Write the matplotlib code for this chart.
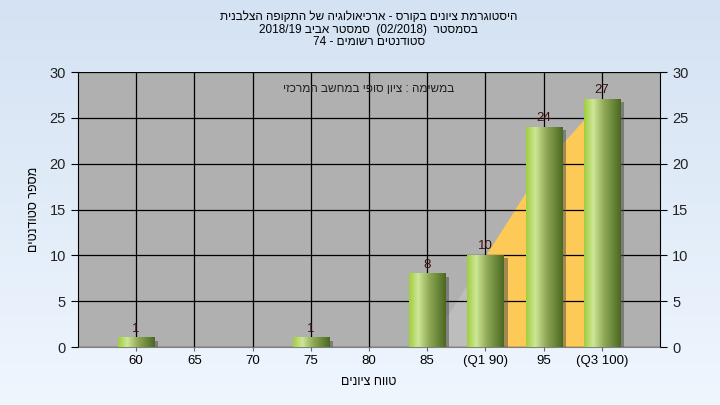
import numpy as np
import matplotlib
matplotlib.use("Agg")
import matplotlib.pyplot as plt
import matplotlib.transforms as mtransforms
from matplotlib.colors import LinearSegmentedColormap

plt.rcParams['font.family'] = ['Liberation Sans', 'DejaVu Sans']

# data
labels = ['60', '65', '70', '75', '80', '85', '(Q1 90)', '95', '(Q3 100)']
counts = [1, 0, 0, 1, 0, 8, 10, 24, 27]
area_idx = [5, 6, 7, 8]          # background curve (85 .. 100)
area_vals = [0, 10, 20, 27]
q1_idx, q3_idx = 6, 8


def heb(s):
    # matplotlib has no bidi support, so hebrew runs are reversed by hand
    return s[::-1]


title = "\n".join([
    heb("היסטוגרמת ציונים בקורס - ארכיאולוגיה של התקופה הצלבנית"),
    "2018/19 " + heb("סמסטר אביב") + "  (02/2018)  " + heb("בסמסטר"),
    "74 - " + heb("סטודנטים רשומים"),
])
note = heb("במשימה : ציון סופי במחשב המרכזי")
xlabel = heb("טווח ציונים")
ylabel = heb("מספר סטודנטים")

fig = plt.figure(figsize=(7.2, 4.05), dpi=100)

# light blue gradient background
bg = fig.add_axes([0, 0, 1, 1], zorder=-10)
grad = np.linspace(0, 1, 256).reshape(-1, 1)
bg.imshow(grad, aspect='auto', extent=[0, 1, 0, 1],
          cmap=LinearSegmentedColormap.from_list('bg', ['#eff6fe', '#d4e2f3']),
          origin='lower')
bg.axis('off')

ax = fig.add_axes([0.108, 0.143, 0.809, 0.679])
ax.set_facecolor('#b0b0b0')
x = np.arange(len(labels))

# background area: grey outside the quartiles, orange between them
ax_x = np.array(area_idx)
ax_y = np.array(area_vals)
ax.fill_between(ax_x, 0, ax_y, where=ax_x <= q1_idx, color='#bdbdbd', zorder=1, lw=0)
ax.fill_between(ax_x, 0, ax_y, where=(ax_x >= q1_idx) & (ax_x <= q3_idx),
                color='#fdc957', zorder=1, lw=0)

# grid
ax.set_xticks(x)
ax.set_yticks(range(0, 31, 5))
ax.grid(True, color='black', lw=0.9, zorder=2)
ax.set_axisbelow(False)

# bar shadows
shadow_tr = mtransforms.offset_copy(ax.transData, fig=fig, x=3, y=-2, units='points')
ax.bar(x, counts, width=0.62, color='#4a4a4a', alpha=0.5, transform=shadow_tr, zorder=3, lw=0)

bars = ax.bar(x, counts, width=0.62, color='none', zorder=4, lw=0)
bar_cmap = LinearSegmentedColormap.from_list(
    'bar', [(0, '#a0cd3e'), (0.25, '#cde796'), (0.55, '#8ea856'), (1, '#4a6920')])
hgrad = np.linspace(0, 1, 256).reshape(1, -1)
for b, c in zip(bars, counts):
    if c == 0:
        continue
    x0, w = b.get_x(), b.get_width()
    ax.imshow(hgrad, aspect='auto', extent=[x0, x0 + w, 0, c], cmap=bar_cmap,
              zorder=4, interpolation='bilinear')
    ax.text(b.get_x() + w / 2, c + 0.35, str(c), ha='center', va='bottom',
            fontsize=9.5, color='#3a1010', zorder=6)

ax.set_xlim(-1, len(labels))
ax.set_ylim(0, 30)

ax.text(0.5, 0.94, note, transform=ax.transAxes, ha='center', va='center',
        fontsize=8.5, color='#202020', zorder=6)

ax.set_xticklabels(labels, fontsize=9.5)
ax.tick_params(axis='x', length=3, color='#666666', pad=3)
ax.tick_params(axis='y', labelsize=10.5, length=5, direction='out', labelright=True,
               right=True, labelcolor='#222222')
ax.spines['top'].set_visible(False)
ax.spines['bottom'].set_color('#808080')
ax.spines['left'].set_color('black')
ax.spines['right'].set_color('black')

ax.set_xlabel(xlabel, fontsize=9, labelpad=6)
ax.set_ylabel(ylabel, fontsize=9, labelpad=7)

fig.text(0.512, 0.972, title, ha='center', va='top', fontsize=8.5, linespacing=1.05)

fig.savefig('out.png', dpi=100)
